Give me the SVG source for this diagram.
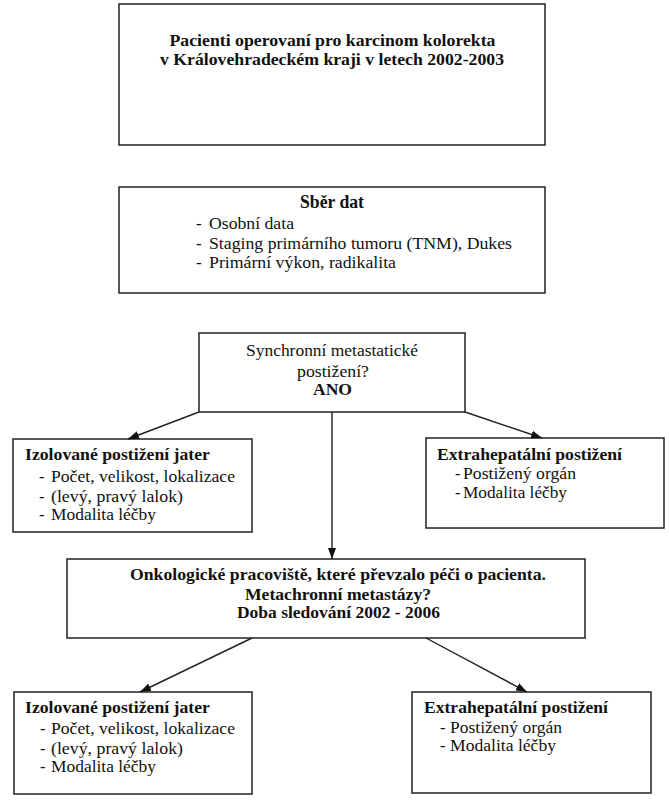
<svg xmlns="http://www.w3.org/2000/svg" width="669" height="800" viewBox="0 0 669 800">
<style>
  .box{fill:#fff;stroke:#222;stroke-width:1.5}
  .t{font-family:"Liberation Serif","Times New Roman",serif;fill:#111;font-size:16.5px}
  .b{font-weight:bold}
  .c{text-anchor:middle}
  .s17{font-size:17px}
  .s18{font-size:18px}
  .conn line{stroke:#222;stroke-width:1.4}
</style>
<defs>
  <marker id="ah" viewBox="0 0 11 8" refX="11" refY="4" markerWidth="11" markerHeight="8" markerUnits="userSpaceOnUse" orient="auto">
    <path d="M0,0 L11,4 L0,8 z" fill="#111"/>
  </marker>
</defs>
<rect width="669" height="800" fill="#fff"/>

<g id="n1">
  <rect class="box" x="119" y="4" width="426" height="141"/>
  <text class="t b c" x="332.5" y="46" textLength="326" lengthAdjust="spacingAndGlyphs">Pacienti operovaní pro karcinom kolorekta</text>
  <text class="t b c" x="332" y="64.5" textLength="344" lengthAdjust="spacingAndGlyphs">v Královehradeckém kraji v letech 2002-2003</text>
</g>

<g id="n2">
  <rect class="box" x="119" y="187" width="426" height="106"/>
  <text class="t b c s18" x="332" y="208" textLength="64" lengthAdjust="spacingAndGlyphs">Sběr dat</text>
  <text class="t s17" x="196" y="229">-</text>
  <text class="t s17" x="209" y="229" textLength="85" lengthAdjust="spacingAndGlyphs">Osobní data</text>
  <text class="t s17" x="196" y="249">-</text>
  <text class="t s17" x="209" y="249" textLength="303" lengthAdjust="spacingAndGlyphs">Staging primárního tumoru (TNM), Dukes</text>
  <text class="t s17" x="196" y="268">-</text>
  <text class="t s17" x="209" y="268" textLength="187" lengthAdjust="spacingAndGlyphs">Primární výkon, radikalita</text>
</g>

<g id="n3">
  <rect class="box" x="199" y="333" width="266" height="79"/>
  <text class="t c" x="332" y="356" textLength="172" lengthAdjust="spacingAndGlyphs">Synchronní metastatické</text>
  <text class="t c" x="333" y="377" textLength="72" lengthAdjust="spacingAndGlyphs">postižení?</text>
  <text class="t b c" x="332.5" y="395" textLength="39" lengthAdjust="spacingAndGlyphs">ANO</text>
</g>

<g id="n4">
  <rect class="box" x="13" y="439" width="239" height="93"/>
  <text class="t b" x="25" y="460" textLength="185" lengthAdjust="spacingAndGlyphs">Izolované postižení jater</text>
  <text class="t" x="39" y="482">-</text>
  <text class="t" x="51" y="482" textLength="184" lengthAdjust="spacingAndGlyphs">Počet, velikost, lokalizace</text>
  <text class="t" x="39" y="502">-</text>
  <text class="t" x="51" y="502" textLength="132" lengthAdjust="spacingAndGlyphs">(levý, pravý lalok)</text>
  <text class="t" x="39" y="520">-</text>
  <text class="t" x="51" y="520" textLength="105" lengthAdjust="spacingAndGlyphs">Modalita léčby</text>
</g>

<g id="n5">
  <rect class="box" x="426" y="438" width="238" height="90"/>
  <text class="t b" x="437" y="460" textLength="185" lengthAdjust="spacingAndGlyphs">Extrahepatální postižení</text>
  <text class="t" x="455" y="479">-</text>
  <text class="t" x="463" y="479" textLength="113" lengthAdjust="spacingAndGlyphs">Postižený orgán</text>
  <text class="t" x="455" y="498">-</text>
  <text class="t" x="463" y="498" textLength="104" lengthAdjust="spacingAndGlyphs">Modalita léčby</text>
</g>

<g id="n6">
  <rect class="box" x="67" y="559" width="518" height="79"/>
  <text class="t b c" x="338" y="580" textLength="416" lengthAdjust="spacingAndGlyphs">Onkologické pracoviště, které převzalo péči o pacienta.</text>
  <text class="t b c" x="338" y="600" textLength="186" lengthAdjust="spacingAndGlyphs">Metachronní metastázy?</text>
  <text class="t b c" x="338.5" y="618" textLength="203" lengthAdjust="spacingAndGlyphs">Doba sledování 2002 - 2006</text>
</g>

<g id="n7">
  <rect class="box" x="14" y="692" width="238" height="102"/>
  <text class="t b" x="25" y="713" textLength="185" lengthAdjust="spacingAndGlyphs">Izolované postižení jater</text>
  <text class="t" x="40" y="734">-</text>
  <text class="t" x="51" y="734" textLength="184" lengthAdjust="spacingAndGlyphs">Počet, velikost, lokalizace</text>
  <text class="t" x="40" y="754">-</text>
  <text class="t" x="51" y="754" textLength="132" lengthAdjust="spacingAndGlyphs">(levý, pravý lalok)</text>
  <text class="t" x="40" y="772">-</text>
  <text class="t" x="51" y="772" textLength="105" lengthAdjust="spacingAndGlyphs">Modalita léčby</text>
</g>

<g id="n8">
  <rect class="box" x="412" y="692" width="239" height="101"/>
  <text class="t b" x="424" y="713" textLength="184" lengthAdjust="spacingAndGlyphs">Extrahepatální postižení</text>
  <text class="t" x="440" y="733">-</text>
  <text class="t" x="450" y="733" textLength="112" lengthAdjust="spacingAndGlyphs">Postižený orgán</text>
  <text class="t" x="440" y="751">-</text>
  <text class="t" x="450" y="751" textLength="106" lengthAdjust="spacingAndGlyphs">Modalita léčby</text>
</g>

<g id="connectors" class="conn">
  <line x1="199" y1="412" x2="128" y2="439" marker-end="url(#ah)"/>
  <line x1="465" y1="412" x2="542" y2="438" marker-end="url(#ah)"/>
  <line x1="332" y1="412" x2="332" y2="559" marker-end="url(#ah)"/>
  <line x1="252" y1="638" x2="140" y2="692" marker-end="url(#ah)"/>
  <line x1="426" y1="638" x2="527" y2="692" marker-end="url(#ah)"/>
</g>
</svg>
